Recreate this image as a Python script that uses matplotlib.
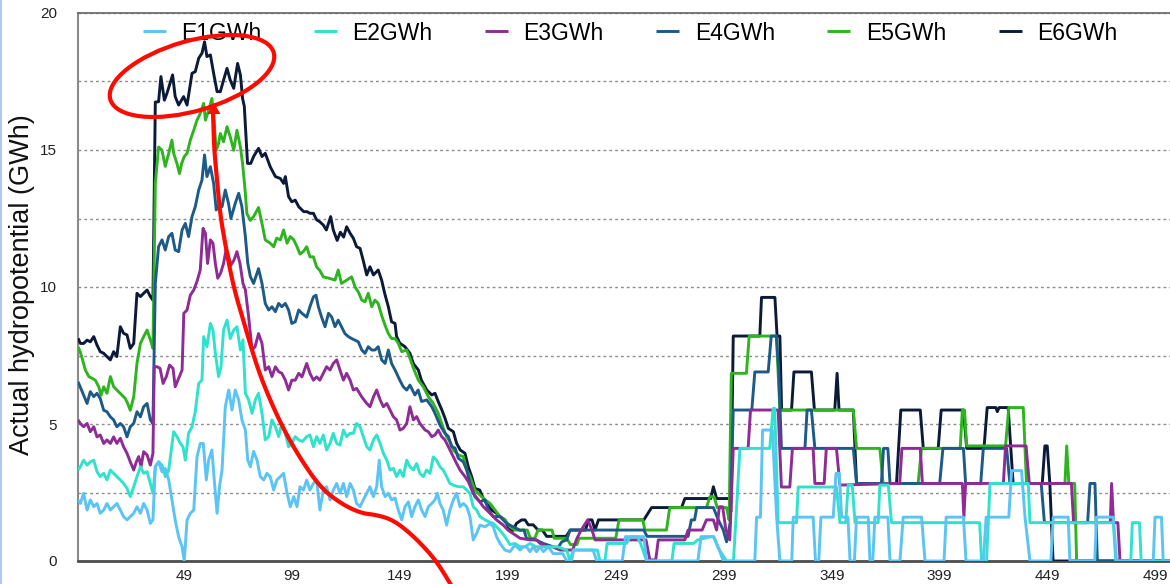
import numpy as np
import matplotlib
matplotlib.use("Agg")
import matplotlib.pyplot as plt
from matplotlib.patches import Ellipse, Polygon

plt.rcParams['font.family'] = ['Liberation Sans', 'DejaVu Sans']

# ---- data: (day, GWh) vertices ----
series_names = ["E1GWh", "E2GWh", "E3GWh", "E4GWh", "E5GWh", "E6GWh"]
series_colors = ["#5ac4f6", "#2fe2cc", "#8e2b95", "#1d5a88", "#2db41f", "#0c1a3a"]

e1_points = [
    (0, 2.23), (1.1, 2.1), (2.6, 2.47), (4.2, 1.86), (5.7, 2.23), (7.3, 1.98), (8.8, 2.1), (10.3, 1.74),
    (11.9, 1.86), (13.4, 2.1), (15, 1.86), (16.5, 1.98), (18, 2.1), (19.6, 1.86), (21.1, 1.62), (22.7, 1.5),
    (24.2, 1.62), (25.8, 1.74), (27.3, 1.98), (28.9, 1.74), (30.4, 2.1), (32, 1.86), (33.5, 1.37), (34.7, 1.5),
    (35.8, 3.44), (37.3, 3.62), (38.9, 3.26), (40.4, 3.38), (42, 2.96), (43.5, 2.23), (45, 1.5), (46.6, 0.88),
    (48.2, 0.52), (49.2, 0.0), (50.5, 1.5), (52, 1.74), (53.6, 1.86), (55.1, 3.8), (56.6, 4.29), (58, 4.29),
    (59.4, 2.96), (60.5, 3.68), (62, 4.05), (63.1, 2.96), (64.4, 1.74), (65.5, 2.7), (66.7, 3.32), (68.2, 5.63),
    (69.8, 6.24), (71.3, 5.51), (72.8, 6.24), (74.4, 5.88), (75.9, 5.15), (77.5, 4.78), (78.6, 3.68), (79.8, 3.44),
    (81.3, 4.0), (82.9, 3.68), (84.4, 3.08), (86, 2.96), (87.5, 3.2), (89, 3.08), (90.6, 2.59), (92.1, 2.96),
    (93.7, 3.08), (95.2, 3.2), (96.8, 2.47), (98.3, 1.98), (99.9, 2.35), (101.4, 1.98), (102.8, 2.71), (104.4, 2.59),
    (105.9, 2.95), (107.4, 2.59), (109, 2.83), (110.5, 2.95), (112, 1.86), (113.6, 2.59), (115.1, 2.71), (116.7, 2.23),
    (118.2, 2.59), (119.8, 2.83), (121.3, 2.47), (122.9, 2.83), (124.4, 2.35), (126, 2.83), (127.5, 2.59), (129, 2.1),
    (130.6, 1.98), (132.1, 2.23), (133.7, 2.47), (135.2, 2.71), (136.8, 2.35), (138.3, 2.71), (139.5, 3.68), (140.6, 2.71),
    (142.2, 2.35), (143.7, 2.47), (145.2, 2.23), (146.8, 2.3), (148.3, 1.86), (149.9, 1.5), (151.4, 1.98), (153, 2.16),
    (154.5, 1.62), (156, 1.98), (157.6, 2.23), (159.1, 1.86), (160.7, 1.62), (162.2, 1.98), (163.8, 2.1), (165.3, 2.23),
    (166.4, 2.47), (167.6, 2.1), (169.1, 1.86), (170.7, 1.31), (172.2, 1.86), (173.8, 2.23), (175.3, 2.47), (176.9, 1.98),
    (178.4, 2.1), (180, 1.98), (181.5, 1.62), (183, 0.77), (184.6, 1.01), (186.1, 1.31), (188.5, 1.25), (190.8, 1.37),
    (192.3, 1.25), (193.8, 0.89), (195.4, 0.64), (197.7, 0.4), (200, 0.34), (202.3, 0.58), (204.7, 0.4), (206.2, 0.52),
    (207.7, 0.52), (209.3, 0.34), (210.8, 0.52), (212.3, 0.34), (213.9, 0.52), (215.5, 0.34), (217.8, 0.52), (220, 0.27),
    (224.5, 0.27), (226.3, 0), (228.5, 0), (229.5, 0.4), (238.5, 0.4), (240.2, 0), (252, 0), (253.5, 0.89),
    (262, 0.89), (263.3, 0), (287, 0), (288.5, 0.89), (294.2, 0.89), (296.5, 0.5), (298.8, 0), (313.4, 0),
    (314.2, 1.6), (316, 1.6), (317, 4.78), (321.5, 4.78), (323.5, 1.6), (325, 0), (330.5, 0), (331.2, 1.6),
    (340.4, 1.6), (341.5, 0), (343, 0), (344, 1.6), (349.7, 1.6), (351, 3.2), (352.5, 3.2), (353.6, 1.6),
    (356.5, 1.6), (357.5, 0), (359.5, 0), (360.5, 1.6), (365.9, 1.6), (366.7, 0), (368, 0), (369, 1.6),
    (375, 1.6), (376, 0), (380.6, 0), (382.1, 1.6), (390.6, 1.6), (392.2, 0), (401, 0), (402, 1.6),
    (410, 1.6), (411.2, 0), (419.2, 0), (420.5, 1.6), (431, 1.6), (432.3, 3.3), (436.9, 3.3), (438.5, 1.6),
    (440.8, 0), (450.5, 0), (451.6, 1.6), (458.5, 1.6), (459.3, 0), (470.8, 0), (471.6, 1.6), (479.4, 1.6),
    (480.9, 0), (497.9, 0), (498.7, 1.6), (501.7, 1.6), (502.5, 0), (512, 0),
]

e2_points = [
    (0, 3.32), (1.1, 3.44), (2.6, 3.68), (4.2, 3.5), (5.7, 3.62), (7.3, 3.68), (8.8, 3.26), (10.3, 3.08),
    (11.9, 3.2), (13.4, 2.96), (15, 3.32), (16.5, 3.2), (18, 3.08), (19.6, 2.96), (21.1, 2.83), (22.7, 2.65),
    (24.2, 2.35), (25.8, 2.71), (27.3, 3.08), (28.9, 3.44), (30.4, 3.2), (32, 3.26), (33.5, 2.83), (34.7, 2.47),
    (35.8, 3.44), (37.3, 3.62), (38.9, 3.5), (40.4, 3.08), (42, 3.32), (44.3, 4.72), (45.8, 4.54), (47.4, 4.29),
    (48.6, 4.17), (49.7, 3.68), (51.2, 4.66), (52.8, 4.9), (54.3, 5.45), (55.9, 6.48), (57.4, 6.6), (58.2, 8.19),
    (59.7, 7.82), (61.3, 8.67), (62.5, 8.43), (63.6, 7.58), (65.1, 6.73), (66.2, 7.09), (67.4, 8.43), (69, 8.79),
    (70.5, 8.12), (72.1, 8.43), (73.6, 8.55), (75.2, 7.7), (76.4, 8.07), (77.5, 6.12), (79, 5.88), (80.6, 5.39),
    (82.1, 5.88), (83.6, 6.12), (85.2, 5.39), (86.7, 4.42), (88.3, 4.54), (89.8, 5.15), (91.4, 4.9), (92.9, 4.54),
    (94.4, 5.02), (96, 4.66), (97.5, 4.17), (99, 4.29), (100.6, 4.54), (102.2, 4.42), (103.9, 4.36), (105.9, 4.54),
    (107.4, 4.6), (109, 4.17), (110.5, 4.54), (112, 4.29), (113.6, 4.6), (115.1, 4.05), (116.7, 4.29), (118.2, 4.66),
    (119.8, 4.29), (121.3, 4.23), (122.9, 4.78), (124.4, 4.54), (126, 4.66), (127.5, 4.66), (129, 5.02), (130.6, 4.9),
    (132.1, 4.54), (133.7, 4.17), (135.2, 4.05), (136.8, 4.42), (138.3, 4.6), (139.9, 4.29), (141.4, 3.93), (143, 3.68),
    (144.5, 3.32), (146, 3.38), (147.5, 3.08), (149.1, 3.32), (150.6, 3.08), (152.2, 3.68), (153.7, 3.44), (155.3, 3.32),
    (156.8, 3.56), (158.3, 3.2), (159.9, 3.08), (161.4, 3.32), (163, 3.2), (164.5, 3.8), (166, 3.68), (167.6, 3.44),
    (169.1, 3.32), (170.7, 3.08), (172.2, 2.83), (173.8, 2.77), (176.1, 2.71), (178.4, 2.71), (180, 2.59), (181.5, 2.47),
    (183, 1.98), (184.6, 1.86), (186.1, 1.62), (188.5, 1.5), (190, 1.44), (192.3, 1.37), (195.4, 1.12), (197.7, 0.89),
    (200, 0.6), (202.3, 0.64), (204.7, 0.52), (207, 0.52), (209.3, 0.64), (212, 0.52), (217, 0.52), (222, 0.52),
    (226.3, 0.4), (227.8, 0), (229.3, 0.4), (240.5, 0.4), (241.7, 0), (244, 0), (245, 0.64), (254, 0.64),
    (255.6, 0.88), (259, 0.88), (260.5, 0.64), (262, 0.3), (263.3, 0), (275, 0), (276, 0.64), (285, 0.64),
    (287, 0.77), (292.6, 0.88), (294.5, 0.88), (296.5, 0.46), (300.3, 0), (303.5, 0), (305, 2.0), (306.5, 4.11),
    (320.3, 4.11), (321.9, 5.57), (322.6, 5.57), (324.2, 1.4), (332.7, 1.4), (333.5, 2.7), (351.2, 2.7), (352.8, 1.4),
    (355.5, 1.4), (356.6, 2.77), (358.5, 2.77), (359.8, 1.4), (370.5, 1.4), (371.3, 2.77), (375.2, 2.77), (376.7, 1.4),
    (417.5, 1.4), (418.4, 0), (420.7, 0), (422.3, 2.83), (440, 2.83), (440.8, 1.4), (479.4, 1.4), (480.5, 0),
    (487.5, 0), (488.2, 1.4), (491.5, 1.4), (492.3, 0), (512, 0),
]

e3_points = [
    (0, 5.15), (1.1, 5.02), (2.6, 4.9), (4.2, 5.02), (5.7, 4.72), (7.3, 4.9), (8.8, 4.53), (10.3, 4.6),
    (11.9, 4.29), (13.4, 4.42), (15, 4.29), (16.5, 4.53), (18, 4.29), (19.6, 4.48), (21.1, 4.17), (22.7, 3.93),
    (24.2, 3.62), (25.8, 3.32), (27, 3.62), (28.1, 3.81), (29.2, 3.44), (30.4, 3.99), (32, 3.87), (33.5, 3.5),
    (34.7, 3.93), (35.3, 7.09), (36.6, 7.09), (38, 7.03), (39.4, 6.48), (40.9, 6.73), (42.4, 7.15), (44, 7.03),
    (45, 6.36), (46.6, 6.67), (48.2, 6.97), (49, 9.04), (50.5, 9.16), (52, 9.7), (53.6, 9.89), (55.1, 10.2),
    (56.6, 10.62), (57.9, 12.14), (59, 11.96), (60, 10.86), (61.3, 11.72), (62.5, 11.6), (63.6, 10.86), (64.7, 10.32),
    (66, 10.5), (67.4, 10.86), (68.7, 11.41), (69.8, 11.1), (70.8, 10.8), (72.2, 10.98), (73.6, 11.29), (75, 10.86),
    (76.4, 10.13), (77.5, 9.9), (79, 8.92), (80.6, 7.7), (82, 7.82), (83.6, 8.3), (85.2, 7.94), (86.7, 6.97),
    (88.3, 7.09), (89.8, 6.73), (91.4, 7.09), (92.9, 6.91), (94.4, 6.85), (96, 6.6), (97.5, 6.24), (99, 6.6),
    (100.6, 6.6), (102.2, 6.85), (103.7, 6.72), (105.9, 7.21), (107.4, 6.85), (109, 6.6), (110.5, 6.72), (112, 6.6),
    (113.6, 6.85), (115.1, 7.09), (116.7, 6.97), (118.2, 7.21), (119.8, 7.34), (121.3, 6.97), (122.9, 6.6), (124.4, 6.85),
    (126, 6.6), (127.5, 6.24), (129, 6.3), (131.4, 5.99), (133.7, 5.75), (135.2, 5.63), (136.8, 5.99), (138.3, 6.24),
    (139.9, 5.88), (141.4, 5.63), (143, 5.75), (144.5, 5.51), (146, 5.27), (147.5, 5.15), (149.1, 4.78), (150.6, 4.84),
    (152.2, 5.02), (153.7, 5.63), (155.3, 5.15), (156.8, 5.27), (158.3, 5.02), (160.7, 4.78), (162.2, 4.72), (163.8, 4.54),
    (165.3, 4.6), (166.8, 4.78), (168.4, 4.54), (169.9, 4.42), (171.5, 4.17), (173.8, 3.8), (175.3, 3.56), (176.9, 3.32),
    (179.2, 3.08), (180.7, 2.9), (183, 2.47), (185.4, 2.23), (187.7, 1.98), (190.8, 1.74), (193.8, 1.5), (196.9, 1.31),
    (199.2, 1.12), (201.5, 1.0), (204.7, 0.83), (209.3, 0.77), (212.3, 0.77), (214, 0.64), (217, 0.52), (220, 0.52),
    (223.2, 0.4), (229, 0.4), (231, 0.82), (233, 1.13), (236, 1.5), (238, 1.13), (239.4, 0.77), (263, 0.77),
    (264.8, 0.04), (267.5, 0.04), (268.7, 0.77), (281, 0.77), (282.5, 1.13), (289, 1.13), (291, 1.5), (294.2, 1.5),
    (295.7, 1.13), (297, 1.98), (298.5, 1.98), (300, 1.13), (301.8, 0.77), (303.4, 4.11), (310.3, 4.11), (311.4, 5.51),
    (324.2, 5.51), (325.7, 2.7), (329.6, 2.7), (330.8, 4.11), (340.4, 4.11), (341.2, 2.83), (345.5, 2.83), (346.5, 4.11),
    (351.2, 4.11), (352.8, 2.77), (380.5, 2.83), (381.5, 4.11), (390, 4.11), (391, 2.83), (409.5, 2.83), (410.2, 1.6),
    (411, 2.83), (428.5, 2.83), (429.5, 4.2), (439, 4.2), (440.5, 2.83), (460, 2.83), (461, 1.4), (478, 1.4),
    (478.6, 2.83), (479.5, 1.4), (481.5, 1.4), (482.5, 0), (512, 0),
]

e4_points = [
    (0, 6.54), (1, 6.36), (2.6, 6.05), (4.2, 5.75), (5.7, 6.18), (7.3, 6.0), (8.8, 6.12), (10.3, 5.93),
    (11.9, 5.5), (13.4, 5.45), (15, 5.26), (16.5, 5.15), (18, 4.9), (19.6, 5.02), (21.1, 4.9), (22.7, 4.53),
    (24.2, 4.9), (25.8, 5.02), (27.3, 5.45), (28.9, 5.26), (30.4, 5.63), (32, 5.75), (33.5, 5.15), (34.7, 5.02),
    (35.8, 10.13), (37.3, 11.47), (38.9, 11.72), (40.4, 11.35), (42, 11.84), (43.5, 11.96), (45, 11.35), (46.6, 11.29),
    (48.2, 12.08), (49.7, 12.32), (51.2, 11.84), (52.8, 12.57), (54.3, 12.93), (55.9, 13.54), (57.4, 13.9), (58.6, 14.82),
    (59.7, 14.03), (61.3, 14.39), (62.8, 13.78), (64, 12.81), (65.6, 13.05), (66.7, 12.93), (68.2, 13.54), (69.7, 13.05),
    (70.8, 12.5), (72.8, 13.05), (74.4, 13.42), (75.9, 12.93), (77.5, 11.84), (78.6, 10.87), (79.8, 10.38), (81.3, 10.13),
    (83.6, 10.67), (85.2, 10.13), (86.7, 9.4), (88.3, 9.16), (89.8, 9.28), (91.4, 9.1), (92.9, 9.4), (94.4, 9.28),
    (96, 9.4), (97.5, 9.16), (99, 8.67), (100.6, 8.73), (102.2, 9.16), (103.7, 9.04), (105.9, 8.9), (107.4, 9.28),
    (109, 9.64), (110.2, 9.7), (111.3, 9.28), (112.8, 8.9), (114.4, 8.55), (116, 9.04), (117.5, 8.9), (119, 8.55),
    (120.5, 8.79), (122, 8.55), (123.6, 8.3), (125.2, 8.19), (126.7, 8.12), (128.3, 8.06), (129.8, 8.0), (131.4, 7.7),
    (132.9, 7.58), (134.4, 7.82), (136, 7.7), (137.5, 7.7), (139, 7.82), (140.6, 7.34), (142.2, 7.21), (143.7, 7.7),
    (145.2, 7.21), (146.8, 6.97), (148.3, 6.72), (149, 6.6), (150.6, 6.36), (152.2, 6.24), (153.7, 6.42), (156, 6.06),
    (157.5, 6.24), (159.1, 5.82), (161.5, 5.88), (163.8, 5.63), (165.3, 5.39), (167.6, 4.96), (169.9, 4.66), (171.5, 4.54),
    (173, 4.18), (174.6, 4.12), (176.1, 3.75), (178.4, 3.62), (180, 3.32), (181.5, 2.83), (183.8, 2.35), (186.1, 2.16),
    (188.5, 2.23), (190, 1.86), (192.3, 1.62), (195.4, 1.62), (198.5, 1.37), (201.5, 1.25), (204.7, 1.12), (206.5, 1.13),
    (207.7, 0.82), (212, 0.77), (215.5, 0.64), (220, 0.52), (222, 0.45), (224, 0.7), (226.3, 0.77), (227.8, 1.13),
    (262, 1.13), (263.5, 0.9), (282.5, 0.9), (284, 1.5), (285.5, 1.5), (286.5, 1.95), (294.2, 1.95), (296.5, 1.5),
    (298.8, 1.13), (300.3, 0.7), (302, 1.4), (303.4, 5.51), (312, 5.51), (313.4, 6.9), (319.6, 6.9), (321, 8.21),
    (323.4, 8.21), (324.5, 6.9), (325.7, 4.11), (336.6, 4.11), (337.6, 5.51), (339.6, 5.51), (341.2, 4.11), (359, 4.11),
    (360.5, 2.83), (372, 2.83), (373, 4.11), (375, 4.11), (376, 2.83), (399, 2.83), (400.5, 4.11), (410, 4.11),
    (411, 2.83), (418, 2.83), (419.2, 4.11), (430, 4.11), (431.5, 2.83), (446, 2.83), (447.5, 1.4), (467.5, 1.4),
    (468.6, 2.83), (470.9, 2.83), (472, 0), (512, 0),
]

e5_points = [
    (0, 7.82), (1, 7.64), (1.9, 7.4), (3.4, 6.97), (5, 6.73), (6.5, 6.67), (8, 6.6), (9.6, 6.36),
    (10.7, 6.05), (11.9, 6.36), (13.4, 6.12), (15, 6.73), (16.5, 6.36), (18, 6.24), (20.4, 6.05), (21.9, 5.93),
    (23, 5.75), (24.2, 5.5), (25.8, 5.99), (27.3, 7.21), (28.9, 7.94), (30.4, 8.19), (32, 8.43), (33.5, 8.07),
    (34.7, 7.76), (35.8, 13.78), (37.3, 15.11), (38.9, 14.99), (40.4, 14.4), (42, 14.88), (43.5, 15.36), (44.3, 14.88),
    (45.8, 14.51), (47, 14.14), (48, 14.51), (49.2, 14.76), (50.5, 14.88), (52, 15.36), (53.6, 15.72), (55.1, 16.09),
    (56.6, 16.33), (58.2, 16.7), (59, 16.09), (60.5, 16.45), (62, 16.88), (63.1, 15.96), (64, 14.99), (65.1, 15.24),
    (65.9, 15.6), (67.4, 15.3), (69, 15.85), (70.5, 15.48), (72.1, 14.99), (73.6, 15.72), (75.2, 15.11), (76.2, 14.51),
    (77.3, 13.6), (78.2, 12.68), (79.8, 12.43), (81.3, 12.57), (83.6, 12.9), (85.2, 12.32), (86.7, 11.72), (89, 11.6),
    (90.6, 11.47), (92, 11.78), (93.7, 11.72), (95.2, 12.08), (96.8, 11.6), (98.3, 11.84), (99.9, 11.72), (101.4, 11.47),
    (102.8, 11.2), (104.4, 11.3), (105.9, 11.47), (107.4, 11.1), (109, 11.1), (110.5, 10.73), (112, 10.6), (113.6, 10.37),
    (116.7, 10.31), (119, 10.25), (120.5, 10.62), (122, 10.13), (124.4, 10.25), (126.7, 10.37), (128.3, 10.0), (129.8, 9.82),
    (131.4, 9.52), (132.9, 9.46), (134.4, 9.77), (136, 9.28), (137.5, 9.52), (139, 9.4), (140.6, 8.96), (142.2, 8.6),
    (143.7, 8.3), (145.2, 8.12), (146.8, 8.12), (148.3, 7.95), (149.9, 7.64), (152.2, 7.7), (153.7, 7.4), (155.3, 7.04),
    (157.6, 6.6), (159.9, 6.36), (162.2, 6.0), (164.5, 5.75), (166.8, 5.39), (169.2, 4.84), (170.7, 4.54), (172.2, 4.36),
    (173.8, 4.05), (176.1, 3.87), (178.4, 3.81), (180, 3.32), (181.5, 3.08), (183.8, 2.59), (186.1, 2.41), (188.5, 2.23),
    (190.8, 2.1), (193.1, 1.86), (195.4, 1.62), (197.7, 1.5), (200, 1.25), (202.3, 1.13), (208, 1.13), (209.5, 0.83),
    (211.5, 0.83), (213, 1.13), (219.5, 1.13), (220.5, 0.83), (226.3, 0.83), (228, 0.6), (231, 0.6), (232, 0.83),
    (249, 0.83), (250.5, 1.5), (261.5, 1.5), (262.5, 1.13), (272.5, 1.13), (274, 1.95), (291, 1.95), (292.6, 2.35),
    (294.5, 2.35), (296, 1.95), (300.3, 1.95), (301.5, 1.5), (302.5, 6.85), (309.5, 6.85), (310.8, 8.21), (323.4, 8.21),
    (325, 5.51), (359, 5.51), (360.5, 4.11), (371.3, 4.11), (372.8, 2.83), (389, 2.83), (390.6, 4.11), (408.5, 4.11),
    (409.5, 5.51), (410.5, 5.51), (411.5, 4.2), (429.5, 4.2), (431, 5.6), (437.7, 5.6), (439.2, 2.83), (457, 2.83),
    (457.8, 4.2), (458.8, 2.83), (461.5, 2.83), (462.4, 0), (512, 0),
]

e6_points = [
    (0, 8.13), (1.1, 7.94), (2.6, 7.94), (4.2, 8.06), (5.7, 8.0), (7.3, 8.19), (8.8, 7.88), (10.3, 7.64),
    (11.9, 7.58), (13.4, 7.46), (15, 7.34), (16.5, 7.64), (18, 7.46), (19.6, 8.55), (21.1, 8.31), (22.7, 8.25),
    (24.2, 7.76), (25.8, 7.94), (27.3, 9.77), (28.9, 9.65), (30.4, 9.77), (32, 9.89), (33.5, 9.65), (34.7, 9.52),
    (35.8, 16.75), (37.3, 16.76), (38.4, 17.68), (40, 16.82), (41.2, 17.07), (43.8, 17.74), (45, 16.95), (46.6, 16.64),
    (48.9, 16.95), (50.5, 16.64), (52.8, 17.8), (54.3, 17.86), (55.9, 18.35), (57.4, 18.53), (58.6, 18.95), (59.7, 18.41),
    (61.3, 18.47), (62.8, 17.8), (64.4, 17.13), (65.9, 17.13), (67.4, 17.55), (69, 17.98), (70.5, 17.55), (72.1, 17.25),
    (73.9, 18.16), (75.2, 17.74), (76.2, 16.88), (77, 16.6), (78.5, 14.51), (80, 14.51), (81.3, 14.76), (83.6, 15.06),
    (85.2, 14.76), (86.7, 14.88), (89, 14.39), (91.4, 14.03), (93.7, 13.96), (95.2, 13.78), (96, 14.03), (97.5, 13.3),
    (99, 13.11), (100.6, 13.17), (102.2, 12.93), (104.5, 12.75), (106, 12.75), (107.4, 12.69), (109, 12.69), (110.5, 12.45),
    (112, 12.38), (113.6, 12.26), (115, 12.08), (117, 12.57), (118.2, 12.08), (120, 11.7), (121.5, 12.0), (123, 11.82),
    (124.4, 12.2), (126, 11.96), (127.5, 11.78), (129, 11.47), (130.6, 11.41), (132, 10.99), (133.7, 10.44), (135.2, 10.74),
    (136.8, 10.44), (139, 10.62), (140.6, 10.25), (142, 9.77), (143.7, 9.28), (145.2, 8.73), (146.8, 8.67), (147.5, 8.2),
    (149, 7.95), (151.4, 7.82), (153.7, 7.58), (155.3, 7.2), (157.6, 6.97), (159, 6.6), (161.5, 6.24), (163.8, 6.06),
    (165.3, 6.12), (166.8, 5.82), (168.5, 5.51), (170, 5.2), (171.5, 4.84), (173.8, 4.72), (175.3, 4.3), (177, 4.05),
    (179.2, 3.93), (180.7, 3.44), (182.3, 3.08), (183.8, 2.65), (186, 2.59), (187.7, 2.28), (189.2, 2.1), (191.5, 1.86),
    (193.8, 1.74), (195.4, 1.62), (197.7, 1.5), (200, 1.12), (201.5, 1.12), (203, 1.37), (205.4, 1.5), (207, 1.5),
    (208.5, 1.32), (210.8, 1.32), (213, 1.13), (215, 1.13), (217, 0.9), (226, 0.9), (228, 1.13), (235, 1.13),
    (236.3, 1.5), (238, 1.5), (239.4, 1.13), (241, 1.5), (262, 1.5), (265.6, 1.95), (279.5, 1.95), (281, 2.28),
    (293, 2.28), (294.2, 2.71), (295.7, 2.28), (301.5, 2.28), (302.3, 1.8), (303.4, 8.21), (315.7, 8.21), (316.5, 9.62),
    (322.7, 9.62), (323.7, 8.21), (325, 8.21), (325.8, 5.51), (330.4, 5.51), (331.5, 6.9), (339.6, 6.9), (341, 5.51),
    (350.4, 5.51), (351.5, 6.85), (352.4, 5.51), (359, 5.51), (360.5, 2.83), (379, 2.83), (381, 5.51), (390, 5.51),
    (391.4, 4.11), (398.3, 4.11), (399.7, 5.51), (410, 5.51), (411.5, 4.11), (419.5, 4.11), (421, 5.6), (425, 5.6),
    (425.7, 5.45), (426.5, 5.6), (430.7, 5.6), (433, 2.83), (446.5, 2.83), (447.7, 4.2), (448.8, 4.2), (450, 2.83),
    (451.5, 0), (512, 0),
]

all_points = [e1_points, e2_points, e3_points, e4_points, e5_points, e6_points]
x_tick_values = [49, 99, 149, 199, 249, 299, 349, 399, 449, 499]
y_tick_values = [0, 5, 10, 15, 20]
y_grid_values = [2.5, 7.5, 12.5, 17.5]

W, H = 1170, 584
fig = plt.figure(figsize=(W / 100, H / 100), dpi=100)
ax = fig.add_axes([78 / W, 23 / H, 1123 / W, 548 / H])

handles = []
for i, (pts, name, col) in enumerate(zip(all_points, series_names, series_colors)):
    xs, ys = zip(*pts)
    # E1 sits on top, E6 underneath
    ln, = ax.plot(xs, ys, color=col, lw=2.1, label=name, zorder=10 - i,
                  solid_joinstyle='round', solid_capstyle='butt')
    handles.append(ln)

ax.set_xlim(0, 520)
ax.set_ylim(0, 20)
ax.set_xticks(x_tick_values)
ax.set_xticklabels([str(v) for v in x_tick_values])
ax.set_yticks(y_tick_values)
ax.set_yticks(y_grid_values, minor=True)
ax.grid(axis='y', which='both', linestyle=(0, (2, 2.2)), color='#8c8c8c', lw=1.0)
ax.set_axisbelow(True)
ax.tick_params(axis='both', which='both', length=0, labelsize=11, labelcolor='#222222')
ax.tick_params(axis='y', pad=15)
ax.tick_params(axis='x', pad=6)

ax.spines['right'].set_visible(False)
ax.spines['left'].set_color('#8a8a8a')
ax.spines['left'].set_linewidth(1.5)
ax.spines['bottom'].set_color('#4d4d4d')
ax.spines['bottom'].set_linewidth(2.0)
ax.spines['top'].set_color('#6e6e6e')
ax.spines['top'].set_linewidth(1.3)

fig.text(22 / W, 1 - 285 / H, "Actual hydropotential (GWh)", rotation=90,
         ha='center', va='center', fontsize=19.5, color='#111111')

ax.legend(handles, series_names, ncol=6, loc='center',
          bbox_to_anchor=(630 / W, 1 - 33 / H), bbox_transform=fig.transFigure,
          frameon=False, fontsize=16.5, handlelength=1.0, handletextpad=0.67,
          columnspacing=2.3, borderpad=0, borderaxespad=0)

# ---- red hand-drawn annotation, in image pixel coordinates ----
ov = fig.add_axes([0, 0, 1, 1], facecolor='none')
ov.set_xlim(0, W)
ov.set_ylim(H, 0)
ov.axis('off')

ov.plot([0.8, 0.8], [0, H], color='#a9c9f2', lw=1.4)

ov.add_patch(Ellipse((192, 76), width=170, height=70, angle=-16,
                     fill=False, edgecolor='#ff0a00', lw=3.0))

curve = np.array([
    (213, 112), (214, 147), (217, 180), (220, 213), (225, 243), (233, 285), (244, 323),
    (257, 367), (270, 400), (284, 430), (300, 458), (320, 487), (340, 503), (360, 513),
    (377, 515), (393, 520), (410, 533), (427, 550), (439, 565), (454, 590),
], dtype=float)
for _ in range(3):
    q = 0.75 * curve[:-1] + 0.25 * curve[1:]
    r = 0.25 * curve[:-1] + 0.75 * curve[1:]
    mid = np.empty((2 * len(q), 2))
    mid[0::2] = q
    mid[1::2] = r
    curve = np.vstack([curve[:1], mid, curve[-1:]])
ov.plot(curve[:, 0], curve[:, 1], color='#ff0a00', lw=3.0, solid_capstyle='butt')
ov.add_patch(Polygon([(207.5, 114), (220.5, 114), (214, 103)], closed=True,
                     facecolor='#ff0a00', edgecolor='none'))

fig.savefig("out.png", dpi=100)
